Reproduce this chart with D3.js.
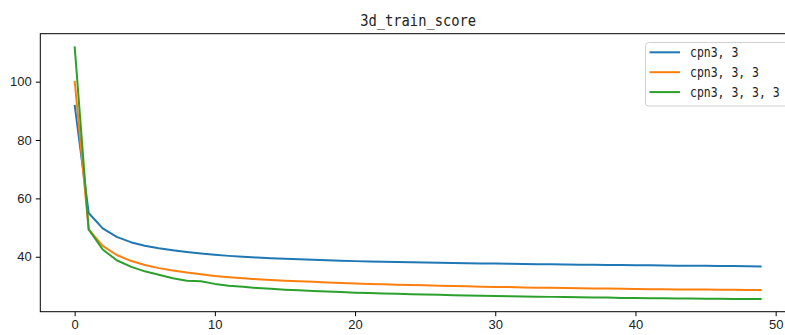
<!DOCTYPE html>
<html>
<head>
<meta charset="utf-8">
<script src="https://cdn.jsdelivr.net/npm/d3@7"></script>
<style>
  body { margin: 0; background: #fff; }
  svg { display: block; }
</style>
</head>
<body>
<svg id="chart"></svg>
<script>
const title = "3d_train_score";
const seriesNames = ["cpn3, 3", "cpn3, 3, 3", "cpn3, 3, 3, 3"];
const colors = ["#1f77b4", "#ff7f0e", "#2ca02c"];
const xTicks = [0, 10, 20, 30, 40, 50];
const yTicks = [40, 60, 80, 100];

const cpn33 = [
  92.0, 55.0, 49.7, 46.8, 45.0, 43.8, 42.9, 42.2, 41.6, 41.1,
  40.7, 40.3, 40.0, 39.7, 39.5, 39.3, 39.1, 38.95, 38.8, 38.65,
  38.5, 38.4, 38.3, 38.2, 38.1, 38.0, 37.95, 37.85, 37.75, 37.7,
  37.65, 37.6, 37.5, 37.45, 37.4, 37.35, 37.3, 37.25, 37.2, 37.2,
  37.1, 37.05, 37.0, 36.95, 36.9, 36.9, 36.85, 36.8, 36.75, 36.7
];
const cpn333 = [
  100.3, 49.4, 43.7, 40.6, 38.6, 37.2, 36.1, 35.3, 34.6, 34.0,
  33.4, 33.0, 32.6, 32.3, 32.0, 31.8, 31.6, 31.4, 31.2, 31.0,
  30.85, 30.7, 30.55, 30.4, 30.3, 30.2, 30.1, 30.0, 29.85, 29.75,
  29.65, 29.6, 29.5, 29.4, 29.35, 29.3, 29.2, 29.15, 29.1, 29.0,
  28.95, 28.9, 28.85, 28.8, 28.75, 28.75, 28.7, 28.65, 28.6, 28.6
];
const cpn3333 = [
  112.1, 49.4, 42.5, 38.8, 36.6, 35.0, 33.8, 32.6, 31.8, 31.6,
  30.7, 30.1, 29.7, 29.3, 29.0, 28.7, 28.5, 28.3, 28.1, 27.9,
  27.7, 27.55, 27.4, 27.3, 27.15, 27.05, 26.95, 26.8, 26.7, 26.6,
  26.55, 26.45, 26.4, 26.3, 26.25, 26.2, 26.1, 26.05, 26.0, 25.9,
  25.85, 25.8, 25.75, 25.7, 25.7, 25.65, 25.6, 25.55, 25.5, 25.5
];

const width = 785, height = 335;
const plotLeft = 40.3, plotRight = 796, plotTop = 33.7, plotBottom = 311.7;

const series = [cpn33, cpn333, cpn3333];

const svg = d3.select("#chart").attr("width", width).attr("height", height);

// matplotlib-style 5% margins
const n = cpn33.length;
const xPad = (n - 1) * 0.05;
const [yMin, yMax] = d3.extent(series.flat());
const yPad = (yMax - yMin) * 0.05;

const x = d3.scaleLinear().domain([-xPad, n - 1 + xPad]).range([plotLeft, plotRight]);
const y = d3.scaleLinear().domain([yMin - yPad, yMax + yPad]).range([plotBottom, plotTop]);

// axes
const xAxis = svg.append("g")
  .attr("transform", `translate(0,${plotBottom})`)
  .call(d3.axisBottom(x).tickValues(xTicks).tickSize(4.5).tickPadding(4).tickFormat(d3.format("d")));
const yAxis = svg.append("g")
  .attr("transform", `translate(${plotLeft},0)`)
  .call(d3.axisLeft(y).tickValues(yTicks).tickSize(4.5).tickPadding(4).tickFormat(d3.format("d")));

[xAxis, yAxis].forEach(($a) => {
  $a.select(".domain").remove();
  $a.selectAll(".tick line").attr("stroke", "#000").attr("stroke-width", 1);
  $a.selectAll(".tick text")
    .attr("fill", "#222")
    .style("font-family", "'Liberation Sans', Arial, sans-serif")
    .style("font-size", "13px");
});

// lines
const line = d3.line().x((d, i) => x(i)).y((d) => y(d));
series.forEach((s, k) => {
  svg.append("path")
    .datum(s)
    .attr("fill", "none")
    .attr("stroke", colors[k])
    .attr("stroke-width", 2)
    .attr("stroke-linejoin", "round")
    .attr("d", line);
});

// frame
svg.append("rect")
  .attr("x", plotLeft).attr("y", plotTop)
  .attr("width", plotRight - plotLeft).attr("height", plotBottom - plotTop)
  .attr("fill", "none").attr("stroke", "#000").attr("stroke-width", 1);

// title
svg.append("text")
  .attr("x", (plotLeft + plotRight) / 2)
  .attr("y", 26)
  .attr("text-anchor", "middle")
  .attr("textLength", 116)
  .attr("lengthAdjust", "spacingAndGlyphs")
  .style("font-family", "'DejaVu Sans Mono', monospace")
  .style("font-size", "16px")
  .attr("fill", "#222")
  .text(title);

// legend
const $legend = svg.append("g");
$legend.append("rect")
  .attr("x", 645.5).attr("y", 42.5)
  .attr("width", 150).attr("height", 63.5)
  .attr("rx", 3)
  .attr("fill", "#fff").attr("fill-opacity", 0.8)
  .attr("stroke", "#d0d0d0").attr("stroke-width", 1);
seriesNames.forEach((name, k) => {
  const cy = 52.3 + k * 19.9;
  $legend.append("line")
    .attr("x1", 649.5).attr("x2", 680)
    .attr("y1", cy).attr("y2", cy)
    .attr("stroke", colors[k]).attr("stroke-width", 2);
  $legend.append("text")
    .attr("x", 690)
    .attr("y", cy + 4.5)
    .attr("textLength", name.length * 6.9)
    .attr("lengthAdjust", "spacingAndGlyphs")
    .style("font-family", "'DejaVu Sans Mono', monospace")
    .style("font-size", "13.5px")
    .attr("fill", "#222")
    .text(name);
});
</script>
</body>
</html>
